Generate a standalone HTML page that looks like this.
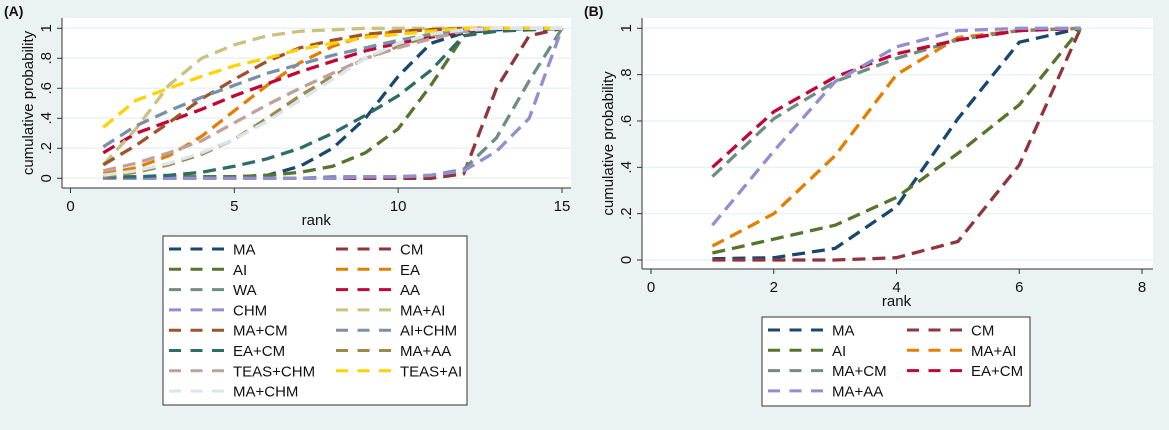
<!DOCTYPE html>
<html><head><meta charset="utf-8"><style>
body{margin:0;background:#eaf2f3;}
svg{display:block;font-family:"Liberation Sans",sans-serif;}
</style></head><body>
<svg id="c" width="1169" height="430"></svg>
<script>
const ranksA=[1,2,3,4,5,6,7,8,9,10,11,12,13,14,15];
const namesA=["MA","CM","AI","EA","WA","AA","CHM","MA+AI","MA+CM","AI+CHM","EA+CM","MA+AA","TEAS+CHM","TEAS+AI","MA+CHM"];
const colorsA=["#1a476f","#90353b","#55752f","#e37e00","#6e8e84","#c10534","#938dd2","#cac27e","#a0522d","#7890a8","#2d6d66","#9c8847","#bfa19c","#ffd200","#d9e6eb"];
const valMA=[0,0,0,0.01,0.01,0.02,0.08,0.2,0.4,0.68,0.9,0.97,0.99,1,1];
const valCM=[0,0,0,0,0,0,0,0,0,0,0,0.03,0.6,0.95,1];
const valAI=[0,0.01,0.01,0.01,0.01,0.02,0.04,0.08,0.17,0.33,0.62,0.95,0.99,0.99,1];
const valEA=[0.03,0.07,0.15,0.28,0.45,0.62,0.77,0.88,0.95,0.98,0.99,1,1,1,1];
const valWA=[0,0,0,0,0,0,0,0.01,0.01,0.01,0.02,0.06,0.27,0.65,1];
const valAA=[0.17,0.3,0.38,0.46,0.55,0.63,0.71,0.78,0.85,0.9,0.94,0.98,1,1,1];
const valCHM=[0,0,0,0,0,0,0,0,0.01,0.01,0.02,0.05,0.18,0.4,1];
const valMAAI=[0.09,0.33,0.62,0.8,0.89,0.95,0.98,0.99,1,1,1,1,1,1,1];
const valMACM=[0.09,0.22,0.37,0.53,0.66,0.78,0.87,0.92,0.96,0.98,0.99,1,1,1,1];
const valAICHM=[0.21,0.35,0.45,0.54,0.62,0.7,0.76,0.82,0.87,0.92,0.96,0.99,1,1,1];
const valEACM=[0.01,0.01,0.02,0.04,0.08,0.13,0.2,0.3,0.42,0.55,0.72,0.95,0.98,0.99,1];
const valMAAA=[0.01,0.04,0.09,0.16,0.26,0.4,0.55,0.68,0.8,0.88,0.95,0.99,1,1,1];
const valTEASCHM=[0.05,0.1,0.17,0.25,0.37,0.49,0.6,0.7,0.8,0.87,0.93,0.98,1,1,1];
const valTEASAI=[0.34,0.52,0.6,0.68,0.75,0.8,0.86,0.9,0.94,0.96,0.98,1,1,1,1];
const valMACHM=[0.02,0.05,0.1,0.17,0.26,0.38,0.52,0.66,0.8,0.9,0.96,0.99,1,1,1];
const seriesA=[valMA,valCM,valAI,valEA,valWA,valAA,valCHM,valMAAI,valMACM,valAICHM,valEACM,valMAAA,valTEASCHM,valTEASAI,valMACHM];
const legendOrderA=[0,2,4,6,8,10,12,14,1,3,5,7,9,11,13];
const ranksB=[1,2,3,4,5,6,7];
const namesB=["MA","CM","AI","MA+AI","MA+CM","EA+CM","MA+AA"];
const colorsB=["#1a476f","#90353b","#55752f","#e37e00","#6e8e84","#c10534","#938dd2"];
const bMA=[0.005,0.01,0.05,0.23,0.61,0.94,1];
const bCM=[0,0,0,0.01,0.08,0.41,1];
const bAI=[0.03,0.09,0.15,0.27,0.46,0.67,1];
const bMAAI=[0.06,0.2,0.45,0.8,0.96,0.99,1];
const bMACM=[0.36,0.61,0.77,0.87,0.95,0.99,1];
const bEACM=[0.4,0.64,0.79,0.89,0.95,0.99,1];
const bMAAA=[0.15,0.47,0.77,0.92,0.99,1,1];
const seriesB=[bMA,bCM,bAI,bMAAI,bMACM,bEACM,bMAAA];
const legendOrderB=[0,2,4,6,1,3,5];
const yTicks=[0,0.2,0.4,0.6,0.8,1];
const yTickLabels=["0",".2",".4",".6",".8","1"];
const xTicksA=[0,5,10,15];
const xTicksB=[0,2,4,6,8];

const svg=document.getElementById('c');
const NS='http://www.w3.org/2000/svg';
function mk(tag,attrs,parent,text){const e=document.createElementNS(NS,tag);for(const k in attrs)e.setAttribute(k,attrs[k]);if(text!==undefined)e.textContent=text;(parent||svg).appendChild(e);return e;}

function panel(P){
  const g=mk('g',{});
  
  
  const xs=v=>P.x0+(v-P.xmin)/(P.xmax-P.xmin)*(P.x1-P.x0);
  const ys=v=>P.y0-v*(P.y0-P.y1);
  const bg=mk('rect',{x:P.left,y:P.top,width:P.right-P.left,height:P.bottom-P.top,fill:'#fff'},g);
  
  yTicks.forEach((t,i)=>{
    const gl=mk('line',{x1:P.left,x2:P.right,y1:ys(t),y2:ys(t),stroke:'#eaf2f3','stroke-width':1.5},g);
    
    mk('line',{x1:P.left-5,x2:P.left,y1:ys(t),y2:ys(t),stroke:'#333'},g);
    const tl=mk('text',{x:0,y:0,transform:`translate(${P.left-11},${ys(t)}) rotate(-90)`,'text-anchor':'middle','font-size':15,fill:'#111'},g,yTickLabels[i]);
    
  });
  P.xTicks.forEach(t=>{
    mk('line',{x1:xs(t),x2:xs(t),y1:P.bottom,y2:P.bottom+5,stroke:'#333'},g);
    const tl=mk('text',{x:xs(t),y:P.bottom+23,'text-anchor':'middle','font-size':15,fill:'#111'},g,String(t));
    
  });
  mk('line',{x1:P.left,x2:P.left,y1:P.top,y2:P.bottom,stroke:'#333'},g);
  mk('line',{x1:P.left,x2:P.right,y1:P.bottom,y2:P.bottom,stroke:'#333'},g);
  const yt=mk('text',{transform:`translate(${P.left-29},${(P.top+P.bottom)/2}) rotate(-90)`,'text-anchor':'middle','font-size':15,fill:'#111'},g,'cumulative probability');
  
  const xt=mk('text',{x:(P.x0+P.x1)/2,y:P.bottom+37,'text-anchor':'middle','font-size':15,fill:'#111'},g,'rank');
  
  const ti=mk('text',{x:P.left-58,y:16,'font-size':14,'font-weight':'bold',fill:'#111'},g,P.title);
  
  P.series.forEach((s,i)=>{
    const d=s.map((v,j)=>(j?'L':'M')+xs(P.ranks[j]).toFixed(1)+','+ys(v).toFixed(1)).join('');
    const p=mk('path',{d:d,fill:'none',stroke:P.colors[i],'stroke-width':3.3,'stroke-dasharray':'13 7'},g);
    
    
  });
  const L=P.legend;
  const lb=mk('rect',{x:L.x,y:L.y,width:L.w,height:L.h,fill:'#fff',stroke:'#333'},g);
  
  P.order.forEach((si,k)=>{
    const col=k<L.rows?0:1,row=k%L.rows;
    const lx=L.x+6+col*L.colw, ly=L.y+13+row*20.3;
    const e=mk('g',{},g);
    
    mk('line',{x1:lx,x2:lx+55,y1:ly,y2:ly,stroke:P.colors[si],'stroke-width':3,'stroke-dasharray':'12 9.5'},e);
    mk('text',{x:lx+64,y:ly+5.5,'font-size':15,fill:'#111'},e,P.names[si]);
  });
}
panel({name:'panel-a',title:'(A)',left:62,right:571,top:18,bottom:188,x0:70.5,x1:562,xmin:0,xmax:15,y0:178.3,y1:28.3,
  xTicks:xTicksA,series:seriesA,colors:colorsA,names:namesA,ranks:ranksA,order:legendOrderA,
  legend:{x:163,y:236,w:304,h:169,rows:8,colw:167}});
panel({name:'panel-b',title:'(B)',left:642,right:1153,top:18,bottom:269,x0:651,x1:1142,xmin:0,xmax:8,y0:260,y1:28.3,
  xTicks:xTicksB,series:seriesB,colors:colorsB,names:namesB,ranks:ranksB,order:legendOrderB,
  legend:{x:762,y:317,w:268,h:89,rows:4,colw:139}});
</script>
</body></html>
